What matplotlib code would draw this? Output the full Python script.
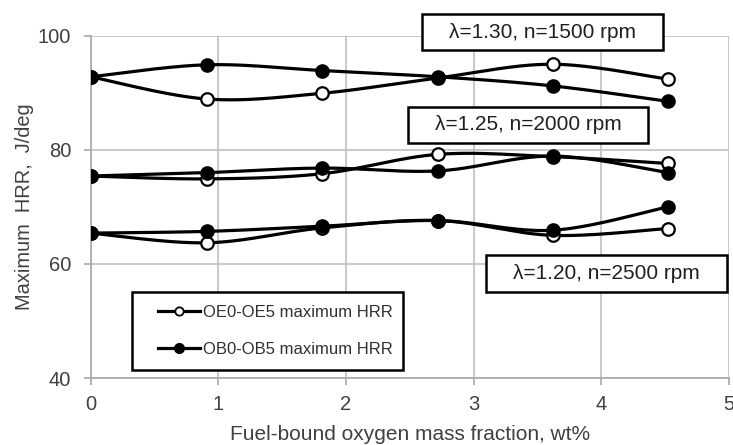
import numpy as np
import matplotlib
matplotlib.use('Agg')
import matplotlib.pyplot as plt
from matplotlib.patches import Rectangle

plt.rcParams['font.family'] = ['Liberation Sans', 'DejaVu Sans']

# fuel-bound oxygen mass fraction, wt%
x = [0, 0.91, 1.81, 2.72, 3.62, 4.52]

# lambda=1.30, n=1500 rpm
oe_1500 = [92.8, 88.9, 89.9, 92.6, 95.0, 92.4]
ob_1500 = [92.8, 94.9, 93.9, 92.8, 91.2, 88.5]
# lambda=1.25, n=2000 rpm
oe_2000 = [75.4, 74.9, 75.8, 79.2, 78.8, 77.6]
ob_2000 = [75.4, 76.0, 76.8, 76.3, 78.9, 76.0]
# lambda=1.20, n=2500 rpm
oe_2500 = [65.4, 63.7, 66.3, 67.6, 65.0, 66.2]
ob_2500 = [65.4, 65.7, 66.6, 67.6, 65.9, 70.0]

labels = ['OE0-OE5 maximum HRR', 'OB0-OB5 maximum HRR']
notes = ['λ=1.30, n=1500 rpm', 'λ=1.25, n=2000 rpm', 'λ=1.20, n=2500 rpm']


def smooth(xs, ys, n=40):
    # catmull-rom curve through the points (like excel "smoothed line")
    xs = np.asarray(xs, float)
    ys = np.asarray(ys, float)
    px = np.concatenate([[xs[0]], xs, [xs[-1]]])
    py = np.concatenate([[ys[0]], ys, [ys[-1]]])
    t = np.linspace(0, 1, n)
    ox, oy = [], []
    for i in range(1, len(px) - 2):
        for p, out in ((px, ox), (py, oy)):
            p0, p1, p2, p3 = p[i-1], p[i], p[i+1], p[i+2]
            out.extend(0.5*((2*p1) + (-p0+p2)*t + (2*p0-5*p1+4*p2-p3)*t**2
                            + (-p0+3*p1-3*p2+p3)*t**3))
    return np.array(ox), np.array(oy)


W, H = 733, 445
fig = plt.figure(figsize=(W/100, H/100), dpi=100)
ax = fig.add_axes([90.7/W, 1-378/H, (729-90.7)/W, (378-35.7)/H])

for oe, ob in [(oe_1500, ob_1500), (oe_2000, ob_2000), (oe_2500, ob_2500)]:
    sx, sy = smooth(x, oe)
    ax.plot(sx, sy, color='black', lw=2.3, zorder=3)
    sx, sy = smooth(x, ob)
    ax.plot(sx, sy, color='black', lw=2.3, zorder=3)
    ax.plot(x, oe, 'o', ms=9, mfc='white', mec='black', mew=1.6, zorder=4)
    ax.plot(x, ob, 'o', ms=9.5, mfc='black', mec='black', zorder=5)

# legend handles
h1, = ax.plot([], [], color='black', lw=2.3, marker='o', ms=6, mfc='white', mec='black', mew=1.3)
h2, = ax.plot([], [], color='black', lw=2.3, marker='o', ms=7, mfc='black', mec='black')

ax.set_xlim(0, 5)
ax.set_ylim(40, 100)
ax.set_xticks([0, 1, 2, 3, 4, 5])
ax.set_yticks([40, 60, 80, 100])
ax.grid(True, color='#c0c0c0', lw=1.2)
ax.set_axisbelow(True)
for s in ['top', 'right']:
    ax.spines[s].set_visible(False)
for s in ['left', 'bottom']:
    ax.spines[s].set_color('#a8a8a8')
    ax.spines[s].set_linewidth(1.2)
ax.tick_params(axis='both', colors='#a8a8a8', labelcolor='#404040', labelsize=14.5, length=5, width=1.2)
ax.tick_params(axis='x', pad=7)
ax.tick_params(axis='y', pad=9)

ax.set_xlabel('Fuel-bound oxygen mass fraction, wt%', size=15, color='#404040', labelpad=8)
ax.set_ylabel('Maximum  HRR,  J/deg', size=14.4, color='#404040', labelpad=3)


def frame(left, top, right, bottom, z=6):
    # rectangle given in pixels of the figure
    x0, x1 = left/W, right/W
    y0, y1 = 1-bottom/H, 1-top/H
    fig.patches.append(Rectangle((x0, y0), x1-x0, y1-y0, transform=fig.transFigure,
                                 fc='white', ec='black', lw=1.8, zorder=z))
    return (x0+x1)/2, (y0+y1)/2


for txt, pos in zip(notes, [(422, 14, 663, 50), (408, 107, 648, 143), (486, 255, 727, 292)]):
    cx, cy = frame(*pos)
    fig.text(cx, cy, txt, ha='center', va='center', size=15, color='#202020', zorder=7)

# legend frame drawn by hand, entries placed inside it
frame(132, 292, 403, 370, z=1)
leg = fig.legend([h1, h2], labels, loc='upper left', bbox_to_anchor=(158/W, 1-305/H),
                 borderaxespad=0, borderpad=0, fontsize=12, frameon=False, handlelength=2.5,
                 handletextpad=0.2, labelspacing=1.3, labelcolor='#303030')
leg.set_zorder(8)

fig.savefig('out.png', dpi=100)
